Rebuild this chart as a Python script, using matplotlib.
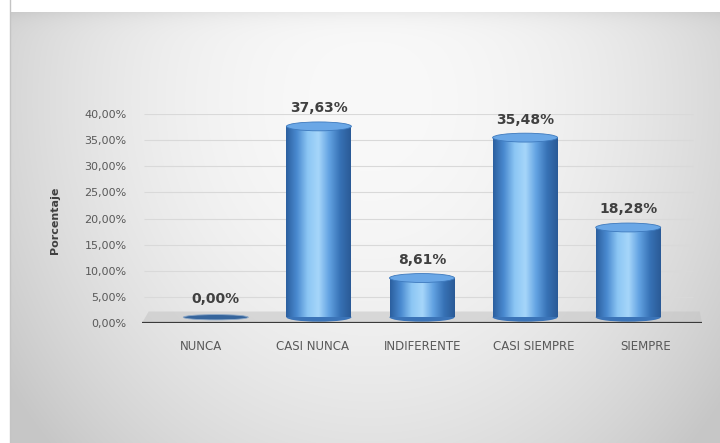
import matplotlib
matplotlib.use('Agg')

import numpy as np
import matplotlib.pyplot as plt
from matplotlib.colors import LinearSegmentedColormap
from matplotlib.patches import Rectangle, Ellipse, Polygon

plt.rcParams['font.family'] = ['DejaVu Sans']

# Survey answers and their share of responses (%)
categories = ["NUNCA", "CASI NUNCA", "INDIFERENTE", "CASI SIEMPRE", "SIEMPRE"]
values = [0.00, 37.63, 8.61, 35.48, 18.28]
y_ticks = [0, 5, 10, 15, 20, 25, 30, 35, 40]

W, H = 720, 443
fig = plt.figure(figsize=(W / 100, H / 100), dpi=100)

# -----------------------------
# BACKGROUND PANEL (soft radial gradient)
# -----------------------------
bg = fig.add_axes([0, 0, 1, 1], zorder=0)
yy, xx = np.mgrid[0:H, 0:W]
d2 = ((xx - 370) / 400.0) ** 2 + ((yy - 100) / 460.0) ** 2
shade = 249 - 42 * d2
shade -= 12 * np.exp(-(yy - 12) / 8.0) * (yy >= 12)   # darker top edge
shade = np.clip(shade, 198, 250)
shade[(xx < 10) | (yy < 12)] = 255
rgb = np.dstack([shade, shade, shade]) / 255.0
bg.imshow(rgb, extent=(0, W, H, 0), aspect='auto', interpolation='bilinear')
bg.axvline(10, color='#c4c4c4', lw=1)
bg.set_xlim(0, W)
bg.set_ylim(H, 0)
bg.axis('off')

# -----------------------------
# BAR CHART
# -----------------------------
ax = fig.add_axes([142 / W, 1 - 323 / H, 560 / W, 209 / H], zorder=1)
ax.patch.set_alpha(0)

x = np.arange(len(categories))
xmin, xmax = -0.53, 4.51
depth = 0.928            # bars sit further back, so they are packed closer
x_bar = 1.99 + (x - 2) * depth
bar_w = 0.585
base = 1.1
ell_h = 1.7

# floor and gridlines
ax.hlines(y_ticks[1:], xmin + 0.02, xmax - 0.08, color='#d9d9d9', lw=0.8, zorder=1)
ax.add_patch(Polygon([(xmin, 0), (xmax, 0), (xmax - 0.02, 2.2), (xmin + 0.06, 2.2)],
                     closed=True, fc='#c4c4c4', ec='none', alpha=0.55, zorder=1.5))
ax.plot([xmin, xmax], [0, 0], color='#3a3a3a', lw=1.6, zorder=5, solid_capstyle='butt')

cyl = LinearSegmentedColormap.from_list(
    'cyl', ['#2b5f9f', '#4a8ad0', '#8cc6f4', '#a6d6fa', '#62a2e2', '#3772b6', '#2a5a96'])
grad = np.linspace(0, 1, 256).reshape(1, -1)

for xc, v in zip(x_bar, values):
    if v > base:
        img = ax.imshow(grad, extent=(xc - bar_w / 2, xc + bar_w / 2, base, v),
                        aspect='auto', cmap=cyl, zorder=3, interpolation='bilinear')
        img.set_clip_path(Rectangle((xc - bar_w / 2, base), bar_w, v - base,
                                    transform=ax.transData))
        ax.add_patch(Ellipse((xc, base), bar_w, ell_h, fc='#3b74b8', ec='none', zorder=2.9))
        ax.add_patch(Ellipse((xc, v), bar_w, ell_h, fc='#6aa7e6', ec='#3d79bd',
                             lw=0.6, zorder=4))
    else:
        ax.add_patch(Ellipse((xc, base), bar_w, ell_h * 0.6, fc='#36659c', ec='#8ea9c8',
                             lw=0.6, zorder=4))
    ax.annotate(f"{v:.2f}%".replace('.', ','), (xc, max(v, base)),
                xytext=(0, 8), textcoords='offset points', ha='center', va='bottom',
                fontsize=10, fontweight='bold', color='#404040', zorder=6)

ax.set_xlim(xmin, xmax)
ax.set_ylim(0, 40)
ax.set_yticks(y_ticks)
ax.set_yticklabels([f"{t:.2f}%".replace('.', ',') for t in y_ticks])
ax.set_xticks(x)
ax.set_xticklabels(categories)
ax.tick_params(axis='y', length=0, pad=11, labelsize=8, labelcolor='#595959')
ax.tick_params(axis='x', length=0, pad=12, labelsize=8.5, labelcolor='#595959')
for s in ax.spines.values():
    s.set_visible(False)

ax.text(-0.155, 0.49, "Porcentaje", transform=ax.transAxes, rotation=90,
        ha='center', va='center', fontsize=8, fontweight='bold', color='#404040')

fig.savefig("out.png", dpi=100)
plt.close(fig)
